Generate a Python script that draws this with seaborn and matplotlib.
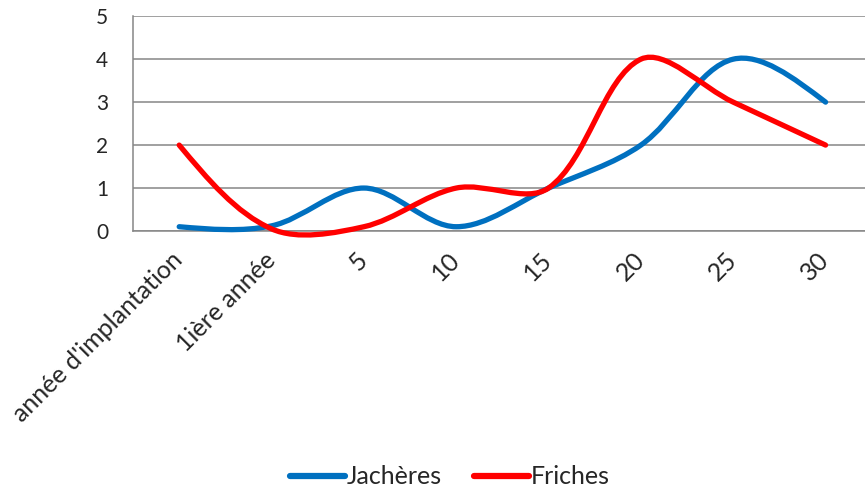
import numpy as np
import pandas as pd
import matplotlib
matplotlib.use("Agg")
import matplotlib.pyplot as plt
from matplotlib.path import Path
from matplotlib.patches import PathPatch
from matplotlib.lines import Line2D
import seaborn as sns

categories = ["année d'implantation", "1ière année", "5", "10", "15", "20", "25", "30"]
jacheres = [0.1, 0.12, 1, 0.1, 1, 2, 4, 3]
friches = [2, 0.05, 0.1, 1, 1, 4, 3, 2]
noms_series = ["Jachères", "Friches"]
couleurs = ["#0070C0", "#FF0000"]
graduations_y = [0, 1, 2, 3, 4, 5]

sns.set_style("white")
plt.rcParams['font.family'] = ['Lato', 'DejaVu Sans']

n = len(categories)
df = pd.DataFrame({
    "pos": list(range(n)) * 2,
    "valeur": jacheres + friches,
    "serie": [noms_series[0]] * n + [noms_series[1]] * n,
})

fig = plt.figure(figsize=(8.65, 4.91), dpi=100)
ax = fig.add_axes([0.1538, 0.5295, 0.854, 0.4375])
sns.lineplot(data=df, x="pos", y="valeur", hue="serie", palette=couleurs,
             legend=False, ax=ax)

gris = "#868686"
ax.set_xlim(-0.5, n - 0.5)
ax.set_ylim(0, 5)


# lissage facon Excel : Bezier dont les tangentes dependent des longueurs
# des segments voisins (calculees a l'ecran)
def chemin_lisse(x, y):
    pts = np.column_stack([x, y])
    ecran = ax.transData.transform(pts)
    m = len(pts)
    verts = [pts[0]]
    codes = [Path.MOVETO]
    for i in range(m - 1):
        i0, i3 = max(i - 1, 0), min(i + 2, m - 1)
        d01 = np.linalg.norm(ecran[i] - ecran[i0])
        d12 = np.linalg.norm(ecran[i + 1] - ecran[i])
        d23 = np.linalg.norm(ecran[i3] - ecran[i + 1])
        f1 = d12 / (d01 + d12) / 3 if i > 0 else 0
        f2 = d12 / (d12 + d23) / 3 if i + 2 < m else 0
        c1 = pts[i] + (pts[i + 1] - pts[i0]) * f1
        c2 = pts[i + 1] - (pts[i3] - pts[i]) * f2
        if i == 0:
            c1 = pts[i] + (c2 - pts[i]) / 2
        if i + 2 >= m:
            c2 = pts[i + 1] + (c1 - pts[i + 1]) / 2
        verts += [c1, c2, pts[i + 1]]
        codes += [Path.CURVE4] * 3
    return Path(verts, codes)


for ligne, c in zip(list(ax.lines), couleurs):
    x, y = ligne.get_xdata(), ligne.get_ydata()
    ligne.set_visible(False)
    ax.add_patch(PathPatch(chemin_lisse(x, y), facecolor='none', edgecolor=c,
                           lw=3.8, capstyle='round', joinstyle='round',
                           zorder=3, clip_on=False))

ax.set_yticks(graduations_y)
ax.set_xticks(range(n))
ax.set_xticklabels(categories, rotation=45, ha='right', va='center',
                   rotation_mode='anchor', fontsize=18)
ax.set_xticks(np.arange(n + 1) - 0.5, minor=True)
ax.tick_params(axis='x', which='major', length=0, pad=18)
ax.tick_params(axis='x', which='minor', length=6, width=1, color=gris, direction='out')
ax.tick_params(axis='y', length=7, width=1, color=gris, direction='out', pad=11, labelsize=15)
ax.yaxis.grid(True, color=gris, lw=1.1)
ax.set_axisbelow(True)
for s in ['top', 'right']:
    ax.spines[s].set_visible(False)
for s in ['left', 'bottom']:
    ax.spines[s].set_color(gris)
    ax.spines[s].set_linewidth(1.1)
ax.set_xlabel("")
ax.set_ylabel("")

poignees = [Line2D([0], [0], color=c, lw=4.5) for c in couleurs]
fig.legend(poignees, noms_series, loc='lower center', bbox_to_anchor=(0.52, 0.0),
           ncol=2, frameon=False, fontsize=18, handlelength=2.2, handletextpad=0.05,
           columnspacing=1.3, borderpad=0.0, borderaxespad=0.1)

fig.savefig("out.png", dpi=100)
